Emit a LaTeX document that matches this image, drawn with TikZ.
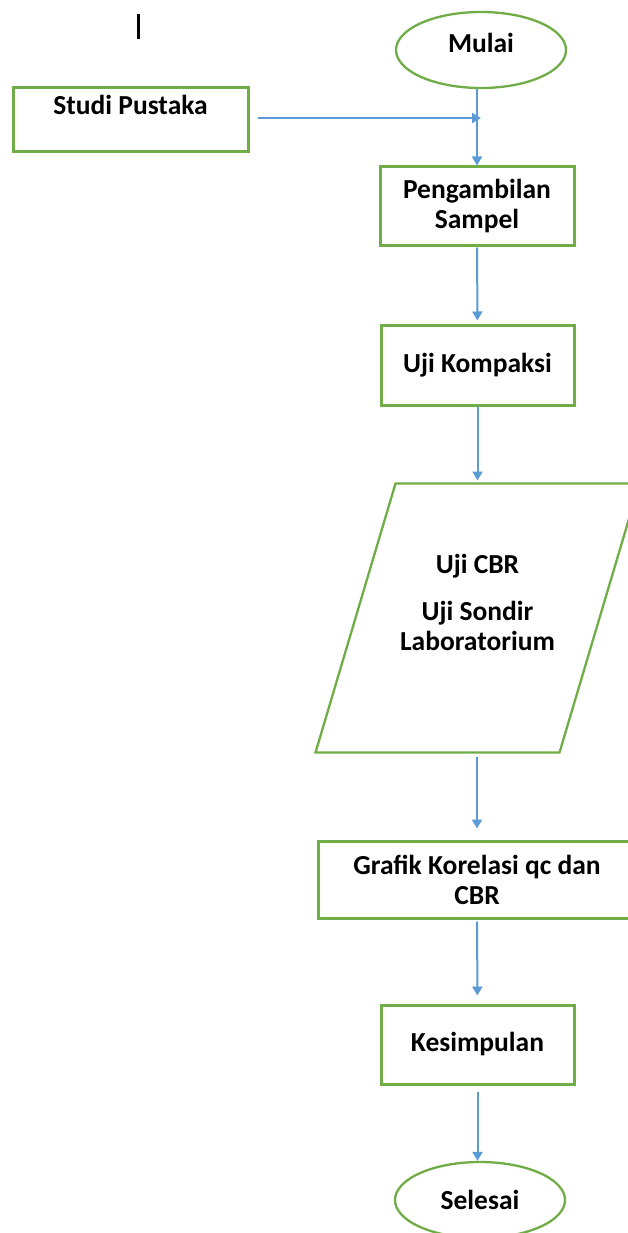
\documentclass[tikz,border=0pt]{standalone}
\usepackage{fontspec}
\setmainfont{Carlito}
\usetikzlibrary{shapes.geometric}
\usetikzlibrary{arrows.meta}
\definecolor{boxgreen}{HTML}{70AD47}
\definecolor{linkblue}{HTML}{5B9BD5}

\begin{document}
\begin{tikzpicture}[x=1pt,y=-1pt]
        \tikzstyle{arrow}=[-{Triangle[length=9pt,width=10pt]}, draw=linkblue, line width=2pt];
        \tikzstyle{box}=[draw=boxgreen, line width=3pt, align=center, font=\fontsize{27.5}{30}\selectfont\bfseries];
        \tikzstyle{oval}=[box, ellipse, line width=2.3pt, minimum width=170pt, minimum height=76pt];
        \useasboundingbox (0,0) rectangle (627,1233);
        \draw [line width=3pt] (138,14) -- (138,39);
        \node [oval, text depth=14pt] (v1) at (481,50) {Mulai};
        \node [box, minimum width=235pt, minimum height=64pt] (v2) at (130.5,120) {Studi Pustaka\\\mbox{}};
        \node [box, minimum width=194pt, minimum height=79pt] (v3) at (477,206.5) {Pengambilan\\Sampel};
        \draw [arrow] (v1.south -| v3.north) -- (v3.north);
        \draw [arrow, shorten >=4pt] ([xshift=8pt,yshift=2pt]v2.east) -- ([xshift=8pt,yshift=2pt]v2.east -| v3.north);
        \node [box, minimum width=193pt, minimum height=80pt] (v4) at (477.5,365) {Uji Kompaksi};
        \draw [arrow, shorten >=3pt] (v3) -- (v4);
        % input/output block
        \node [box, draw=none, minimum width=241pt, minimum height=266pt, text depth=31pt,
               inner sep=0pt] (v5) at (477.5,618) {Uji CBR\\[17pt]Uji Sondir\\Laboratorium};
        \draw [boxgreen, line width=2.3pt] ([xshift=-40pt]v5.south west) -- ([xshift=40pt]v5.north west)
              -- ([xshift=40pt]v5.north east) -- ([xshift=-40pt]v5.south east) -- cycle;
        \draw [arrow, shorten >=3pt] (v4) -- (v5.north -| v4.south);
        \node [box, minimum width=318pt, minimum height=77pt] (v6) at (477,879.5) {Grafik Korelasi qc dan\\CBR};
        \draw [arrow, shorten <=4pt, shorten >=11pt] (v5.south -| v6.north) -- (v6.north);
        \node [box, minimum width=193pt, minimum height=79pt] (v7) at (477.5,1044.5) {Kesimpulan};
        \draw [arrow, shorten <=2pt, shorten >=8pt] (v6) -- (v7);
        \node [oval] (v8) at (480,1200) {Selesai};
        \draw [arrow, shorten <=6pt] (v7.south) -- (v7.south |- v8.north);
\end{tikzpicture}
\end{document}
